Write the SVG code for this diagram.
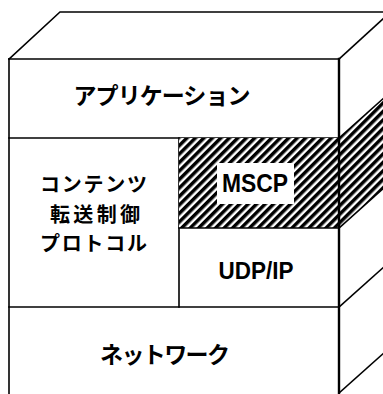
<svg xmlns="http://www.w3.org/2000/svg" width="383" height="394" viewBox="0 0 383 394">
<style>
.ln{fill:none;stroke:#000;stroke-width:1.6;stroke-linecap:square}
.jp{font-family:"Noto Sans CJK JP","Noto Sans CJK SC",sans-serif;font-weight:bold;font-size:23px;fill:#000;text-anchor:middle}
.jps{font-size:20px}
.en{font-family:"Liberation Sans",Arial,sans-serif;font-weight:bold;font-size:24px;fill:#000;text-anchor:middle}
</style>
<defs>
<pattern id="hatch" patternUnits="userSpaceOnUse" width="6" height="6" patternTransform="rotate(45)">
<rect width="6" height="6" fill="#fff"/>
<line x1="1.75" y1="0" x2="1.75" y2="6" stroke="#000" stroke-width="3.5"/>
</pattern>
</defs>
<rect width="383" height="394" fill="#fff"/>
<g id="box">
<polyline class="ln" points="9,59 60,12 390,12"/>
<line class="ln" x1="9" y1="59" x2="339" y2="59"/>
<line class="ln" x1="339" y1="59" x2="385" y2="17"/>
<line class="ln" x1="9" y1="59" x2="9" y2="394"/>
<line class="ln" x1="339" y1="307" x2="385" y2="266"/>
<line class="ln" x1="339" y1="393" x2="385" y2="352"/>
</g>
<g id="application">
<line class="ln" x1="9" y1="138" x2="339" y2="138"/>
<text class="jp" x="162" y="104" textLength="177" lengthAdjust="spacing">アプリケーション</text>
</g>
<g id="content-protocol">
<line class="ln" x1="179" y1="138" x2="179" y2="307"/>
<text class="jp jps" x="93.5" y="192" textLength="107" lengthAdjust="spacing">コンテンツ</text>
<text class="jp jps" x="95" y="222" textLength="90" lengthAdjust="spacing">転送制御</text>
<text class="jp jps" x="93.5" y="251" textLength="107" lengthAdjust="spacing">プロトコル</text>
</g>
<g id="mscp">
<rect x="179" y="138" width="160" height="90" fill="url(#hatch)"/>
<polygon points="339,138 385,97 385,187 339,228" fill="url(#hatch)"/>
<line class="ln" x1="339" y1="138" x2="385" y2="97"/>
<line class="ln" x1="339" y1="228" x2="385" y2="187"/>
<rect x="217" y="163" width="77" height="41" fill="#fff"/>
<text class="en" x="255" y="191.5" textLength="66" lengthAdjust="spacingAndGlyphs" style="font-size:25px">MSCP</text>
</g>
<g id="udpip">
<line class="ln" x1="179" y1="228" x2="339" y2="228"/>
<text class="en" x="256" y="279" textLength="75" lengthAdjust="spacingAndGlyphs" style="font-size:23px">UDP/IP</text>
</g>
<g id="network">
<line class="ln" x1="9" y1="307" x2="339" y2="307"/>
<text class="jp" x="165" y="363" textLength="130" lengthAdjust="spacing">ネットワーク</text>
</g>
<g id="connectors"/>
<line class="ln" x1="339" y1="59" x2="339" y2="394" style="stroke-width:2.4"/>
</svg>
